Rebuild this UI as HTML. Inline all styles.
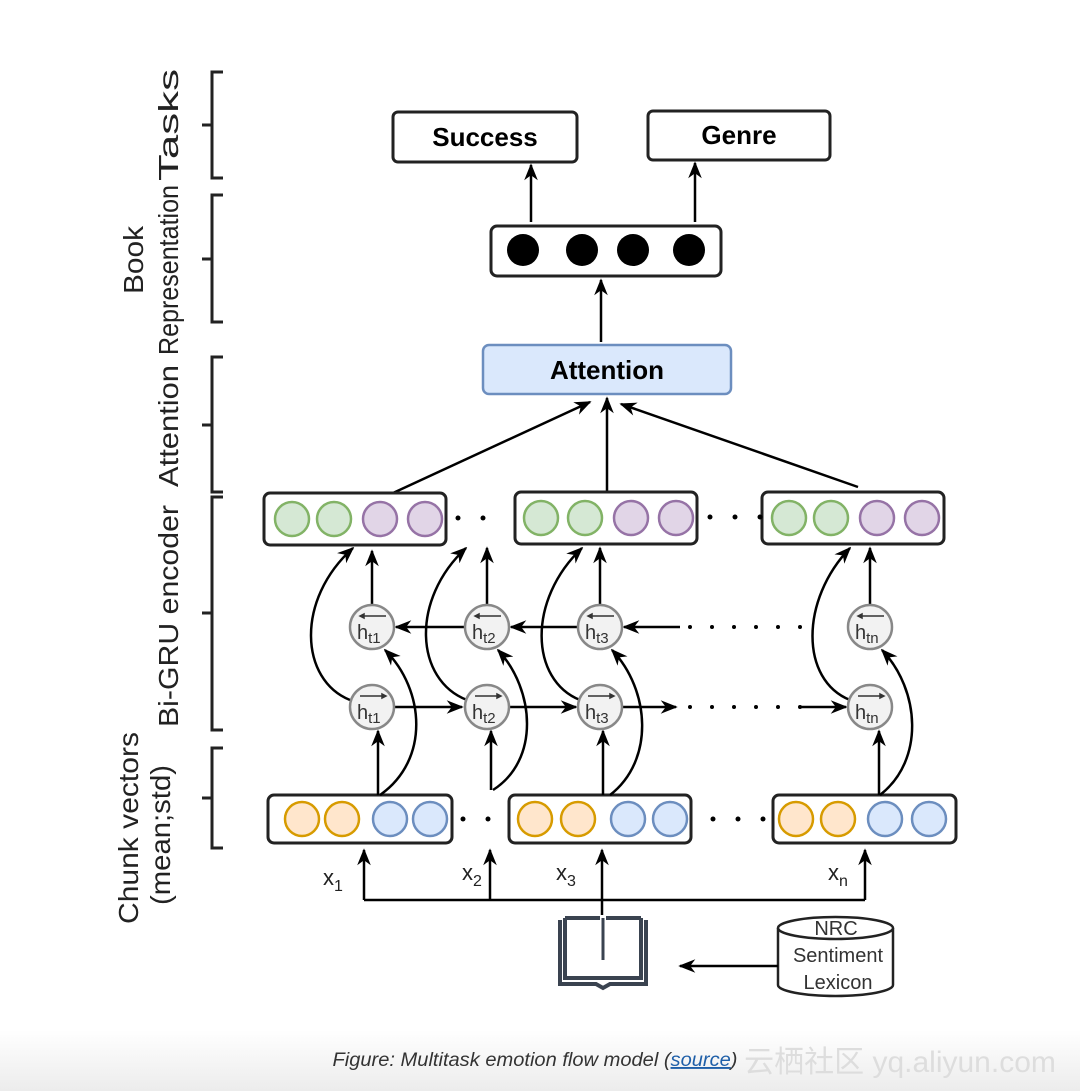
<!DOCTYPE html>
<html><head><meta charset="utf-8"><style>
html,body{margin:0;padding:0;background:#fff;}
svg{display:block;}
text{font-family:"Liberation Sans",sans-serif;}
</style></head><body>
<svg width="1080" height="1091" viewBox="0 0 1080 1091" xmlns="http://www.w3.org/2000/svg">
<defs>
<marker id="b" viewBox="0 0 10 10" refX="9" refY="5" markerWidth="17" markerHeight="17" orient="auto" markerUnits="userSpaceOnUse">
<path d="M0,1 L10,5 L0,9 L3,5 Z" fill="#000"/></marker>
<linearGradient id="wm" x1="0" y1="0" x2="0" y2="1"><stop offset="0" stop-color="#fff"/><stop offset="1" stop-color="#ececec"/></linearGradient>
</defs>
<rect x="0" y="1030" width="1080" height="61" fill="url(#wm)"/>

<!-- brackets -->
<g stroke="#222" stroke-width="3" fill="none">
<path d="M223,72 H212 V178 H223 M212,125 H202"/>
<path d="M223,195 H212 V322 H223 M212,259 H202"/>
<path d="M223,357 H212 V492 H223 M212,425 H202"/>
<path d="M223,497 H212 V730 H223 M212,613 H202"/>
<path d="M223,748 H212 V848 H223 M212,798 H202"/>
</g>
<g fill="#222" font-size="28">
<text transform="translate(178,125) rotate(-90)" text-anchor="middle" textLength="112" lengthAdjust="spacingAndGlyphs">Tasks</text>
<text transform="translate(143,260) rotate(-90)" text-anchor="middle" textLength="68" lengthAdjust="spacingAndGlyphs">Book</text>
<text transform="translate(178,270) rotate(-90)" text-anchor="middle" textLength="170" lengthAdjust="spacingAndGlyphs">Representation</text>
<text transform="translate(178,426) rotate(-90)" text-anchor="middle" textLength="122" lengthAdjust="spacingAndGlyphs">Attention</text>
<text transform="translate(178,616) rotate(-90)" text-anchor="middle" textLength="222" lengthAdjust="spacingAndGlyphs">Bi-GRU encoder</text>
<text transform="translate(138,828) rotate(-90)" text-anchor="middle" textLength="192" lengthAdjust="spacingAndGlyphs">Chunk vectors</text>
<text transform="translate(170,835) rotate(-90)" text-anchor="middle" textLength="140" lengthAdjust="spacingAndGlyphs">(mean;std)</text>
</g>

<!-- tasks -->
<g stroke="#222" stroke-width="3" fill="#fff">
<rect x="393" y="112" width="184" height="50" rx="5"/>
<rect x="648" y="111" width="182" height="49" rx="5"/>
<rect x="491" y="226" width="230" height="50" rx="6"/>
</g>
<text x="485" y="146" font-size="26" font-weight="bold" text-anchor="middle">Success</text>
<text x="739" y="144" font-size="26" font-weight="bold" text-anchor="middle">Genre</text>
<g fill="#000"><circle cx="523" cy="250" r="16"/><circle cx="582" cy="250" r="16"/><circle cx="633" cy="250" r="16"/><circle cx="689" cy="250" r="16"/></g>
<g stroke="#000" stroke-width="2.5" fill="none" marker-end="url(#b)">
<line x1="531" y1="222" x2="531" y2="165"/>
<line x1="695" y1="222" x2="695" y2="163"/>
<line x1="601" y1="342" x2="601" y2="280"/>
</g>
<rect x="483" y="345" width="248" height="49" rx="6" fill="#dae8fc" stroke="#6c8ebf" stroke-width="2.5"/>
<text x="607" y="379" font-size="26" font-weight="bold" text-anchor="middle">Attention</text>
<g stroke="#000" stroke-width="2.5" fill="none" marker-end="url(#b)">
<line x1="393" y1="493" x2="590" y2="402"/>
<line x1="607" y1="493" x2="607" y2="398"/>
<line x1="858" y1="487" x2="621" y2="404"/>
</g>

<!-- encoder boxes -->
<g stroke="#222" stroke-width="3" fill="#fff">
<rect x="264" y="493" width="182" height="52" rx="6"/>
<rect x="515" y="492" width="182" height="52" rx="6"/>
<rect x="762" y="492" width="182" height="52" rx="6"/>
<rect x="268" y="795" width="184" height="48" rx="6"/>
<rect x="509" y="795" width="182" height="48" rx="6"/>
<rect x="773" y="795" width="183" height="48" rx="6"/>
</g>
<g stroke-width="2.5">
<g fill="#d5e8d4" stroke="#82b366">
<circle cx="292" cy="519" r="17"/><circle cx="334" cy="519" r="17"/>
<circle cx="541" cy="518" r="17"/><circle cx="585" cy="518" r="17"/>
<circle cx="789" cy="518" r="17"/><circle cx="831" cy="518" r="17"/>
</g>
<g fill="#e1d5e7" stroke="#9673a6">
<circle cx="380" cy="519" r="17"/><circle cx="425" cy="519" r="17"/>
<circle cx="631" cy="518" r="17"/><circle cx="676" cy="518" r="17"/>
<circle cx="877" cy="518" r="17"/><circle cx="922" cy="518" r="17"/>
</g>
<g fill="#ffe6cc" stroke="#d79b00">
<circle cx="302" cy="819" r="17"/><circle cx="342" cy="819" r="17"/>
<circle cx="535" cy="819" r="17"/><circle cx="578" cy="819" r="17"/>
<circle cx="796" cy="819" r="17"/><circle cx="838" cy="819" r="17"/>
</g>
<g fill="#dae8fc" stroke="#6c8ebf">
<circle cx="390" cy="819" r="17"/><circle cx="430" cy="819" r="17"/>
<circle cx="628" cy="819" r="17"/><circle cx="670" cy="819" r="17"/>
<circle cx="885" cy="819" r="17"/><circle cx="929" cy="819" r="17"/>
</g>
</g>
<g fill="#000">
<circle cx="458" cy="518" r="2.5"/><circle cx="483" cy="518" r="2.5"/>
<circle cx="710" cy="517" r="2.5"/><circle cx="735" cy="517" r="2.5"/><circle cx="760" cy="517" r="2.5"/>
<circle cx="463" cy="819" r="2.5"/><circle cx="488" cy="819" r="2.5"/>
<circle cx="713" cy="819" r="2.5"/><circle cx="738" cy="819" r="2.5"/><circle cx="763" cy="819" r="2.5"/>
<circle cx="690" cy="627" r="2"/><circle cx="712" cy="627" r="2"/><circle cx="734" cy="627" r="2"/><circle cx="756" cy="627" r="2"/><circle cx="778" cy="627" r="2"/><circle cx="800" cy="627" r="2"/>
<circle cx="690" cy="707" r="2"/><circle cx="712" cy="707" r="2"/><circle cx="734" cy="707" r="2"/><circle cx="756" cy="707" r="2"/><circle cx="778" cy="707" r="2"/><circle cx="800" cy="707" r="2"/>
</g>

<!-- connectors in GRU -->
<g stroke="#000" stroke-width="2.5" fill="none" marker-end="url(#b)">
<line x1="578" y1="627" x2="511" y2="627"/>
<line x1="465" y1="627" x2="396" y2="627"/>
<line x1="680" y1="627" x2="624" y2="627"/>
<line x1="394" y1="707" x2="462" y2="707"/>
<line x1="509" y1="707" x2="576" y2="707"/>
<line x1="622" y1="707" x2="676" y2="707"/>
<line x1="800" y1="707" x2="846" y2="707"/>
<line x1="372" y1="605" x2="372" y2="551"/>
<line x1="487" y1="605" x2="487" y2="548"/>
<line x1="600" y1="605" x2="600" y2="548"/>
<line x1="870" y1="605" x2="870" y2="548"/>
<line x1="378" y1="795" x2="378" y2="731"/>
<line x1="491" y1="790" x2="491" y2="731"/>
<line x1="603" y1="795" x2="603" y2="731"/>
<line x1="879" y1="795" x2="879" y2="731"/>
<path d="M350,700 C300,680 295,600 353,548"/>
<path d="M467,700 C415,680 410,600 466,548"/>
<path d="M580,700 C530,680 527,600 582,548"/>
<path d="M850,700 C800,680 800,600 850,548"/>
<path d="M380,795 C430,760 425,690 385,650"/>
<path d="M493,790 C540,760 535,690 498,650"/>
<path d="M610,795 C655,760 650,690 612,650"/>
<path d="M880,795 C925,760 920,690 882,650"/>
</g>

<!-- GRU nodes -->
<g fill="#f2f2f2" stroke="#888" stroke-width="2.5">
<circle cx="372" cy="627" r="22"/><circle cx="487" cy="627" r="22"/><circle cx="600" cy="627" r="22"/><circle cx="870" cy="627" r="22"/>
<circle cx="372" cy="707" r="22"/><circle cx="487" cy="707" r="22"/><circle cx="600" cy="707" r="22"/><circle cx="870" cy="707" r="22"/>
</g>
<g font-size="20" fill="#333">
<text x="357" y="639">h<tspan font-size="15" dy="4">t1</tspan></text>
<text x="472" y="639">h<tspan font-size="15" dy="4">t2</tspan></text>
<text x="585" y="639">h<tspan font-size="15" dy="4">t3</tspan></text>
<text x="855" y="639">h<tspan font-size="15" dy="4">tn</tspan></text>
<text x="357" y="719">h<tspan font-size="15" dy="4">t1</tspan></text>
<text x="472" y="719">h<tspan font-size="15" dy="4">t2</tspan></text>
<text x="585" y="719">h<tspan font-size="15" dy="4">t3</tspan></text>
<text x="855" y="719">h<tspan font-size="15" dy="4">tn</tspan></text>
</g>
<g stroke="#333" stroke-width="1.5" fill="#333">
<path d="M360,616 H386 M360,616 l4,-2 v4 z"/>
<path d="M475,616 H501 M475,616 l4,-2 v4 z"/>
<path d="M588,616 H614 M588,616 l4,-2 v4 z"/>
<path d="M858,616 H884 M858,616 l4,-2 v4 z"/>
<path d="M360,696 H386 M386,696 l-4,-2 v4 z"/>
<path d="M475,696 H501 M501,696 l-4,-2 v4 z"/>
<path d="M588,696 H614 M614,696 l-4,-2 v4 z"/>
<path d="M858,696 H884 M884,696 l-4,-2 v4 z"/>
</g>

<!-- inputs -->
<g stroke="#000" stroke-width="2.5" fill="none">
<path d="M364,900 H865"/>
<line x1="602" y1="915" x2="602" y2="900"/>
</g>
<g stroke="#000" stroke-width="2.5" fill="none" marker-end="url(#b)">
<line x1="364" y1="900" x2="364" y2="850"/>
<line x1="490" y1="900" x2="490" y2="850"/>
<line x1="602" y1="900" x2="602" y2="850"/>
<line x1="865" y1="900" x2="865" y2="850"/>
</g>
<g font-size="22" fill="#222">
<text x="323" y="885">x<tspan font-size="16" dy="6">1</tspan></text>
<text x="462" y="880">x<tspan font-size="16" dy="6">2</tspan></text>
<text x="556" y="880">x<tspan font-size="16" dy="6">3</tspan></text>
<text x="828" y="880">x<tspan font-size="16" dy="6">n</tspan></text>
</g>
<!-- book icon -->
<g stroke="#3a4350" stroke-width="4" fill="none">
<path d="M560,920 V984 H596 L603,988 L610,984 H646 V920"/>
<path d="M565,918 H600 M606,918 H641 M565,918 V978 H641 V918"/>
<line x1="603" y1="918" x2="603" y2="960" stroke-width="3"/>
</g>
<!-- NRC cylinder -->
<g stroke="#222" stroke-width="2.5" fill="#fff">
<path d="M778,928 V985 A57.5,11 0 0 0 893,985 V928"/>
<ellipse cx="835.5" cy="928" rx="57.5" ry="11"/>
</g>
<g font-size="20" fill="#333" text-anchor="middle">
<text x="836" y="935">NRC</text>
<text x="838" y="962">Sentiment</text>
<text x="838" y="989">Lexicon</text>
</g>
<line x1="778" y1="966" x2="680" y2="966" stroke="#000" stroke-width="2.5" marker-end="url(#b)"/>

<!-- caption -->
<text x="535" y="1066" font-size="19" font-style="italic" fill="#333" text-anchor="middle" font-family="'DejaVu Sans','Liberation Sans',sans-serif" textLength="405" lengthAdjust="spacingAndGlyphs">Figure: Multitask emotion flow model (<tspan fill="#1f5fa8" text-decoration="underline">source</tspan>)</text>
<text x="900" y="1072" font-size="30" fill="#ddd" text-anchor="middle" font-family="'Liberation Sans','Noto Sans CJK SC',sans-serif">云栖社区 yq.aliyun.com</text>
</svg>
</body></html>
